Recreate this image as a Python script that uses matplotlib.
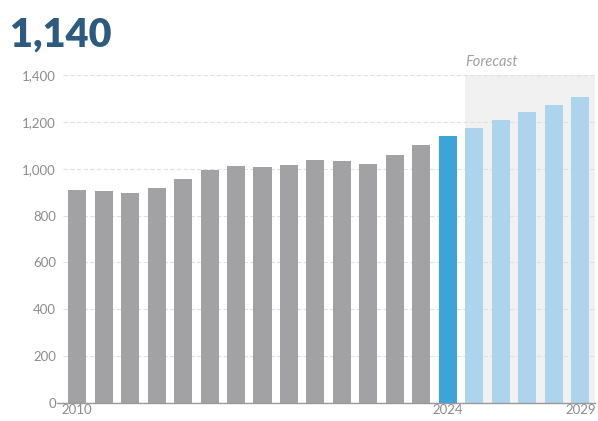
import matplotlib
matplotlib.use("Agg")
import matplotlib.pyplot as plt
from matplotlib.patches import Rectangle

# Annual values, 2010-2029 (2025 onward are forecasts)
years = list(range(2010, 2030))
values = [911, 907, 898, 918, 955, 993, 1011, 1006, 1014, 1038,
          1031, 1022, 1059, 1100, 1140, 1175, 1209, 1242, 1274, 1304]
current_year = 2024
headline = "1,140"
y_ticks = [0, 200, 400, 600, 800, 1000, 1200, 1400]
x_tick_years = [2010, 2024, 2029]

GREY = "#a2a2a5"
BLUE = "#3aa5d9"
LIGHT_BLUE = "#acd5ed"
TEXT = "#8c8c8c"
TITLE = "#2d5b80"

plt.rcParams["font.family"] = ["Lato", "DejaVu Sans"]

fig = plt.figure(figsize=(5.98, 4.21), dpi=100)
ax = fig.add_axes([63 / 598, 18 / 421, (595 - 63) / 598, (346 - 18) / 421])

colors = [GREY if y < current_year else BLUE if y == current_year else LIGHT_BLUE
          for y in years]

# forecast band
ax.add_patch(Rectangle((current_year + 0.64, 0), 10, 1400, facecolor="#f1f1f1",
                       edgecolor="none", zorder=0))

ax.bar(years, values, width=0.68, color=colors, zorder=2)

ax.set_xlim(2009.47, 2029.55)
ax.set_ylim(0, 1400)
ax.set_yticks(y_ticks)
ax.set_yticklabels([f"{v:,}" for v in y_ticks])
ax.yaxis.grid(True, color="#e0e0e0", linestyle=(0, (4, 2)), linewidth=0.8, zorder=1)
ax.set_axisbelow(True)

for side in ("top", "right", "left"):
    ax.spines[side].set_visible(False)
ax.spines["bottom"].set_color("#9a9a9a")
ax.spines["bottom"].set_linewidth(1.0)

ax.tick_params(axis="y", length=0, pad=5, labelsize=9.5, labelcolor=TEXT)
ax.tick_params(axis="x", length=0, pad=1, labelsize=9.5, labelcolor=TEXT)
ax.set_xticks(x_tick_years)
ax.set_xticklabels([str(y) for y in x_tick_years])
# small tick at zero
ax.plot([-0.012, 0], [0, 0], transform=ax.transAxes, color="#9a9a9a",
        linewidth=1.0, clip_on=False)

ax.text(current_year + 0.64, 1425, "Forecast", fontstyle="italic", fontsize=10.5,
        color="#a0a0a0", ha="left", va="bottom")

fig.text(10 / 598, 1 - 47 / 421, headline, fontsize=28.5, fontweight="heavy",
         color=TITLE, ha="left", va="baseline")

fig.savefig("out.png", dpi=100)
